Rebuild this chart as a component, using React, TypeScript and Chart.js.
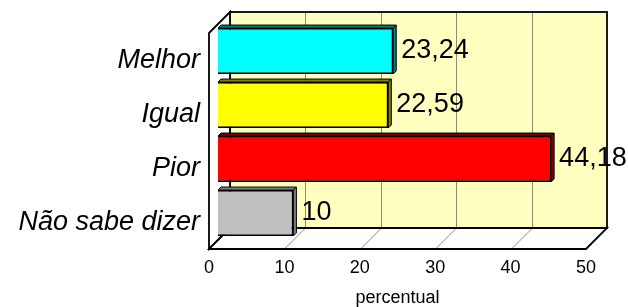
import React, { useEffect, useRef } from "react";
import { Chart, registerables } from "chart.js";

Chart.register(...registerables);

const categories = ["Melhor", "Igual", "Pior", "Não sabe dizer"];
const values = [23.24, 22.59, 44.18, 10];
const faceColors = ["#00ffff", "#ffff00", "#ff0000", "#c0c0c0"];
const sideColors = ["#008080", "#808000", "#800000", "#808080"];
const xTicks = [0, 10, 20, 30, 40, 50];
const axisTitle = "percentual";

const FONT = "'Liberation Sans', Arial, sans-serif";
const DEPTH = 21;
const BAR_SHIFT = 9;
const BAR_DEPTH = 3;

const wallsPlugin = {
  id: "walls3d",
  beforeDatasetsDraw(chart: any) {
    const { ctx, chartArea, scales } = chart;
    const xs = scales.x;
    const x0 = xs.getPixelForValue(xTicks[0]);
    const x1 = xs.getPixelForValue(xTicks[xTicks.length - 1]);
    const top = chartArea.top;
    const bottom = chartArea.bottom;
    const D = DEPTH;
    ctx.save();
    ctx.lineJoin = "miter";
    // back wall
    ctx.fillStyle = "#ffffc0";
    ctx.fillRect(x0 + D, top - D, x1 - x0, bottom - top);
    // gridlines on back wall
    ctx.strokeStyle = "#8c8c6e";
    ctx.lineWidth = 1;
    xTicks.slice(1, -1).forEach((v) => {
      const px = Math.round(xs.getPixelForValue(v)) + 0.5;
      ctx.beginPath();
      ctx.moveTo(px + D, top - D);
      ctx.lineTo(px + D, bottom - D);
      ctx.stroke();
    });
    ctx.strokeStyle = "#000";
    ctx.lineWidth = 1.8;
    ctx.strokeRect(x0 + D, top - D, x1 - x0, bottom - top);
    // left wall
    ctx.fillStyle = "#ffffff";
    ctx.beginPath();
    ctx.moveTo(x0, top);
    ctx.lineTo(x0 + D, top - D);
    ctx.lineTo(x0 + D, bottom - D);
    ctx.lineTo(x0, bottom);
    ctx.closePath();
    ctx.fill();
    ctx.stroke();
    // floor
    ctx.beginPath();
    ctx.moveTo(x0, bottom);
    ctx.lineTo(x1, bottom);
    ctx.lineTo(x1 + D, bottom - D);
    ctx.lineTo(x0 + D, bottom - D);
    ctx.closePath();
    ctx.fill();
    // floor gridlines
    ctx.strokeStyle = "#8c8c8c";
    ctx.lineWidth = 1;
    xTicks.slice(1, -1).forEach((v) => {
      const px = Math.round(xs.getPixelForValue(v)) + 0.5;
      ctx.beginPath();
      ctx.moveTo(px, bottom);
      ctx.lineTo(px + D, bottom - D);
      ctx.stroke();
    });
    ctx.strokeStyle = "#000";
    ctx.lineWidth = 1.8;
    ctx.beginPath();
    ctx.moveTo(x0, bottom);
    ctx.lineTo(x1, bottom);
    ctx.lineTo(x1 + D, bottom - D);
    ctx.lineTo(x0 + D, bottom - D);
    ctx.closePath();
    ctx.stroke();
    ctx.restore();
    // shift bars into the middle depth of the box
    ctx.save();
    ctx.translate(BAR_SHIFT, -BAR_SHIFT);
  },
  afterDatasetsDraw(chart: any) {
    const { ctx } = chart;
    const meta = chart.getDatasetMeta(0);
    const d = BAR_DEPTH;
    meta.data.forEach((bar: any, i: number) => {
      const left = bar.base;
      const right = bar.x;
      const t = bar.y - bar.height / 2;
      const b = bar.y + bar.height / 2;
      ctx.fillStyle = sideColors[i];
      ctx.strokeStyle = "#000";
      ctx.lineWidth = 1;
      // top face
      ctx.beginPath();
      ctx.moveTo(left, t);
      ctx.lineTo(left + d, t - d);
      ctx.lineTo(right + d, t - d);
      ctx.lineTo(right, t);
      ctx.closePath();
      ctx.fill();
      ctx.stroke();
      // right face
      ctx.beginPath();
      ctx.moveTo(right, t);
      ctx.lineTo(right + d, t - d);
      ctx.lineTo(right + d, b - d);
      ctx.lineTo(right, b);
      ctx.closePath();
      ctx.fill();
      ctx.stroke();
      // value label
      ctx.fillStyle = "#000";
      ctx.font = `27px ${FONT}`;
      ctx.textAlign = "left";
      ctx.textBaseline = "middle";
      ctx.fillText(String(values[i]).replace(".", ","), right + 8, bar.y);
    });
    ctx.restore();
  },
};

export default function App() {
  const ref = useRef<HTMLCanvasElement | null>(null);
  useEffect(() => {
    if (!ref.current) return;
    const chart = new Chart(ref.current, {
      type: "bar",
      data: {
        labels: categories,
        datasets: [
          {
            data: values,
            backgroundColor: faceColors,
            borderColor: "#000",
            borderWidth: 1.8,
            barPercentage: 0.85,
            categoryPercentage: 1,
            clip: false as any,
          },
        ],
      },
      options: {
        indexAxis: "y",
        animation: false,
        responsive: false,
        maintainAspectRatio: false,
        events: [],
        layout: { padding: { left: 0, right: 42, top: 33, bottom: 0 } },
        plugins: { legend: { display: false }, tooltip: { enabled: false } },
        scales: {
          x: {
            min: 0,
            max: 50,
            afterBuildTicks: (scale: any) => {
              scale.ticks = xTicks.map((v) => ({ value: v }));
            },
            afterFit: (scale: any) => {
              scale.height = 58;
            },
            grid: { display: false, drawTicks: false },
            border: { display: false },
            ticks: {
              color: "#000",
              padding: 8,
              font: { family: FONT, size: 18 },
              maxRotation: 0,
              autoSkip: false,
            },
            title: {
              display: true,
              text: axisTitle,
              color: "#000",
              font: { family: FONT, size: 18 },
              padding: { top: 0, bottom: -2 },
            },
          },
          y: {
            afterFit: (scale: any) => {
              scale.width = 209;
            },
            grid: { display: false, drawTicks: false },
            border: { display: false },
            ticks: {
              color: "#000",
              padding: 9,
              font: { family: FONT, size: 27, style: "italic" },
            },
          },
        },
      },
      plugins: [wallsPlugin],
    });
    return () => chart.destroy();
  }, []);
  return (
    <div style={{ position: "absolute", left: 0, top: 0, width: 628, height: 307, background: "#fff" }}>
      <canvas ref={ref} width={628} height={307} style={{ display: "block" }} />
    </div>
  );
}
